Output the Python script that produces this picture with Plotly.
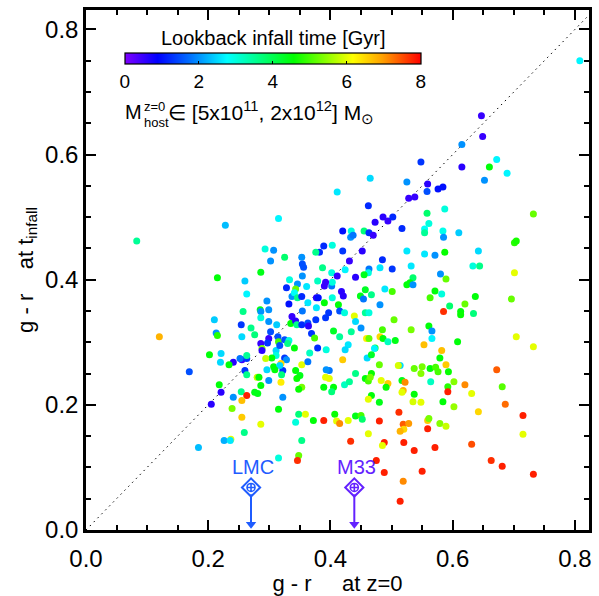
import plotly.graph_objects as go

# g - r colour of each satellite at z=0 and at its infall time, plus lookback infall time [Gyr]
gr_z0 = [
    0.808, 0.647, 0.649, 0.615, 0.548, 0.672, 0.615, 0.660, 0.689, 0.652,
    0.465, 0.525, 0.411, 0.559, 0.558, 0.576, 0.584, 0.528, 0.538, 0.462,
    0.558, 0.587, 0.732, 0.473, 0.486, 0.494, 0.502, 0.561, 0.554, 0.554,
    0.517, 0.584, 0.585, 0.610, 0.420, 0.434, 0.455, 0.433, 0.437, 0.463,
    0.470, 0.701, 0.704, 0.403, 0.420, 0.452, 0.525, 0.554, 0.571, 0.587,
    0.642, 0.431, 0.485, 0.532, 0.633, 0.644, 0.701, 0.402, 0.411, 0.424,
    0.441, 0.463, 0.462, 0.481, 0.501, 0.455, 0.580, 0.535, 0.589, 0.525,
    0.530, 0.535, 0.402, 0.403, 0.418, 0.421, 0.403, 0.457, 0.449, 0.454,
    0.467, 0.489, 0.501, 0.571, 0.582, 0.637, 0.696, 0.563, 0.620, 0.595,
    0.413, 0.481, 0.397, 0.415, 0.423, 0.439, 0.457, 0.463, 0.585, 0.613,
    0.613, 0.634, 0.441, 0.450, 0.405, 0.434, 0.504, 0.485, 0.532, 0.561,
    0.566, 0.415, 0.459, 0.463, 0.481, 0.486, 0.494, 0.506, 0.566, 0.608,
    0.704, 0.732, 0.553, 0.429, 0.424, 0.473, 0.472, 0.582, 0.420, 0.460,
    0.467, 0.579, 0.480, 0.514, 0.511, 0.537, 0.550, 0.548, 0.563, 0.572,
    0.576, 0.589, 0.593, 0.672, 0.441, 0.398, 0.398, 0.457, 0.462, 0.467,
    0.465, 0.483, 0.494, 0.517, 0.522, 0.519, 0.517, 0.564, 0.602, 0.592,
    0.620, 0.681, 0.592, 0.631, 0.423, 0.431, 0.405, 0.402, 0.491, 0.467,
    0.537, 0.462, 0.480, 0.535, 0.548, 0.584, 0.602, 0.686, 0.642, 0.715,
    0.407, 0.441, 0.450, 0.452, 0.512, 0.480, 0.410, 0.415, 0.429, 0.519,
    0.528, 0.520, 0.514, 0.559, 0.561, 0.559, 0.579, 0.589, 0.462, 0.715,
    0.184, 0.237, 0.226, 0.236, 0.259, 0.315, 0.353, 0.348, 0.346, 0.433,
    0.488, 0.485, 0.475, 0.488, 0.520, 0.519, 0.514, 0.537, 0.550, 0.571,
    0.631, 0.663, 0.681, 0.732, 0.083, 0.228, 0.315, 0.293, 0.307, 0.325,
    0.302, 0.353, 0.389, 0.382, 0.376, 0.354, 0.356, 0.387, 0.286, 0.215,
    0.260, 0.333, 0.354, 0.379, 0.392, 0.390, 0.346, 0.328, 0.361, 0.343,
    0.263, 0.296, 0.337, 0.341, 0.346, 0.353, 0.332, 0.354, 0.363, 0.377,
    0.380, 0.390, 0.377, 0.257, 0.285, 0.286, 0.299, 0.286, 0.210, 0.254,
    0.270, 0.299, 0.312, 0.337, 0.340, 0.335, 0.343, 0.345, 0.353, 0.363,
    0.364, 0.376, 0.392, 0.213, 0.215, 0.255, 0.276, 0.302, 0.314, 0.299,
    0.297, 0.286, 0.288, 0.288, 0.315, 0.311, 0.317, 0.325, 0.332, 0.330,
    0.341, 0.311, 0.304, 0.294, 0.325, 0.328, 0.319, 0.307, 0.322, 0.296,
    0.255, 0.263, 0.252, 0.263, 0.241, 0.234, 0.221, 0.220, 0.202, 0.120,
    0.169, 0.260, 0.263, 0.280, 0.283, 0.299, 0.320, 0.319, 0.286, 0.218,
    0.254, 0.221, 0.276, 0.281, 0.241, 0.263, 0.255, 0.322, 0.205, 0.239,
    0.315, 0.255, 0.286, 0.369, 0.374, 0.379, 0.393, 0.366, 0.317, 0.309,
    0.343, 0.350, 0.345, 0.353, 0.353, 0.348, 0.363, 0.393, 0.392, 0.389,
    0.348, 0.359, 0.372, 0.389, 0.343,
]
gr_infall = [
    0.750, 0.662, 0.629, 0.616, 0.588, 0.592, 0.580, 0.580, 0.570, 0.559,
    0.562, 0.556, 0.540, 0.553, 0.541, 0.545, 0.548, 0.530, 0.532, 0.518,
    0.506, 0.513, 0.505, 0.492, 0.500, 0.494, 0.500, 0.490, 0.481, 0.475,
    0.482, 0.478, 0.468, 0.475, 0.478, 0.478, 0.478, 0.468, 0.471, 0.475,
    0.471, 0.459, 0.462, 0.455, 0.446, 0.446, 0.446, 0.441, 0.439, 0.444,
    0.446, 0.430, 0.432, 0.422, 0.422, 0.422, 0.411, 0.411, 0.406, 0.416,
    0.404, 0.417, 0.411, 0.419, 0.417, 0.408, 0.409, 0.403, 0.401, 0.392,
    0.395, 0.392, 0.390, 0.396, 0.381, 0.374, 0.371, 0.384, 0.374, 0.369,
    0.376, 0.385, 0.381, 0.382, 0.377, 0.373, 0.369, 0.371, 0.361, 0.358,
    0.360, 0.360, 0.347, 0.350, 0.347, 0.342, 0.347, 0.347, 0.349, 0.349,
    0.344, 0.346, 0.333, 0.323, 0.318, 0.317, 0.336, 0.320, 0.320, 0.326,
    0.318, 0.309, 0.306, 0.306, 0.309, 0.306, 0.301, 0.303, 0.306, 0.301,
    0.309, 0.293, 0.296, 0.296, 0.288, 0.291, 0.290, 0.287, 0.272, 0.275,
    0.280, 0.275, 0.264, 0.263, 0.263, 0.258, 0.261, 0.250, 0.258, 0.260,
    0.253, 0.264, 0.253, 0.256, 0.250, 0.255, 0.242, 0.242, 0.238, 0.250,
    0.244, 0.239, 0.234, 0.239, 0.236, 0.223, 0.220, 0.237, 0.237, 0.229,
    0.232, 0.229, 0.221, 0.218, 0.232, 0.237, 0.228, 0.221, 0.228, 0.215,
    0.217, 0.209, 0.204, 0.205, 0.204, 0.205, 0.197, 0.201, 0.189, 0.183,
    0.185, 0.182, 0.183, 0.177, 0.188, 0.174, 0.174, 0.170, 0.175, 0.169,
    0.170, 0.161, 0.158, 0.175, 0.178, 0.162, 0.170, 0.166, 0.154, 0.153,
    0.132, 0.145, 0.143, 0.143, 0.156, 0.115, 0.143, 0.119, 0.111, 0.142,
    0.140, 0.135, 0.111, 0.092, 0.140, 0.078, 0.046, 0.127, 0.094, 0.132,
    0.137, 0.111, 0.102, 0.089, 0.462, 0.487, 0.498, 0.449, 0.447, 0.436,
    0.430, 0.436, 0.454, 0.444, 0.444, 0.425, 0.420, 0.419, 0.412, 0.403,
    0.398, 0.400, 0.406, 0.398, 0.396, 0.390, 0.393, 0.387, 0.389, 0.385,
    0.377, 0.366, 0.373, 0.379, 0.371, 0.373, 0.361, 0.350, 0.363, 0.371,
    0.371, 0.363, 0.355, 0.349, 0.352, 0.349, 0.352, 0.339, 0.336, 0.328,
    0.323, 0.333, 0.328, 0.341, 0.334, 0.330, 0.334, 0.328, 0.328, 0.331,
    0.326, 0.336, 0.339, 0.315, 0.311, 0.309, 0.312, 0.317, 0.309, 0.306,
    0.299, 0.298, 0.290, 0.287, 0.301, 0.287, 0.295, 0.304, 0.303, 0.298,
    0.291, 0.279, 0.275, 0.274, 0.275, 0.272, 0.266, 0.261, 0.255, 0.256,
    0.272, 0.274, 0.274, 0.279, 0.268, 0.264, 0.282, 0.268, 0.280, 0.309,
    0.253, 0.255, 0.248, 0.244, 0.244, 0.239, 0.248, 0.236, 0.231, 0.232,
    0.221, 0.220, 0.220, 0.218, 0.212, 0.215, 0.207, 0.212, 0.201, 0.194,
    0.193, 0.180, 0.169, 0.314, 0.307, 0.291, 0.288, 0.283, 0.263, 0.256,
    0.255, 0.247, 0.242, 0.264, 0.228, 0.225, 0.269, 0.256, 0.244, 0.228,
    0.185, 0.185, 0.175, 0.175, 0.172,
]
t_infall = [
    2.7, 0.5, 0.5, 2.0, 1.3, 2.7, 0.6, 4.5, 2.7, 2.0,
    2.5, 2.0, 2.6, 0.6, 1.5, 1.0, 1.0, 0.5, 0.5, 1.2,
    3.8, 3.0, 5.2, 0.6, 0.6, 0.5, 1.2, 3.0, 2.8, 3.5,
    1.2, 2.9, 2.0, 2.4, 1.0, 3.0, 3.7, 2.0, 1.8, 1.2,
    0.5, 4.8, 4.7, 3.0, 1.3, 0.6, 2.6, 2.6, 2.0, 4.6,
    2.5, 0.5, 1.2, 2.6, 3.0, 3.6, 6.0, 3.0, 0.5, 2.7,
    0.6, 1.8, 3.0, 2.6, 1.3, 4.4, 2.0, 3.8, 5.2, 4.5,
    4.5, 2.0, 1.8, 3.0, 0.6, 0.6, 3.0, 4.3, 4.4, 1.8,
    3.6, 2.6, 5.0, 4.5, 3.0, 4.5, 5.2, 5.0, 5.2, 3.8,
    4.5, 2.0, 1.3, 1.5, 3.0, 6.0, 3.5, 3.0, 7.7, 4.5,
    4.6, 3.7, 2.5, 2.0, 4.3, 3.5, 5.2, 5.0, 5.3, 4.5,
    2.0, 3.5, 6.3, 5.2, 6.5, 4.5, 3.2, 4.4, 2.7, 4.5,
    6.0, 6.0, 6.7, 2.6, 2.5, 4.4, 2.7, 6.7, 6.6, 2.5,
    4.3, 4.5, 5.2, 2.5, 5.9, 5.2, 5.3, 5.4, 4.5, 5.0,
    5.0, 6.6, 4.6, 7.4, 3.6, 1.8, 6.0, 4.5, 5.0, 4.6,
    5.3, 6.0, 6.6, 4.4, 7.1, 6.8, 6.0, 3.2, 5.4, 4.8,
    7.1, 5.1, 7.8, 6.0, 3.2, 3.5, 4.5, 3.7, 4.6, 4.5,
    4.5, 6.0, 4.4, 5.9, 6.0, 4.5, 5.5, 7.3, 6.5, 7.8,
    4.6, 4.4, 5.0, 3.8, 7.7, 7.8, 6.0, 7.1, 6.0, 7.4,
    7.0, 6.5, 6.8, 6.6, 5.3, 7.8, 5.4, 5.8, 6.0, 6.0,
    2.3, 6.0, 2.2, 2.6, 3.6, 3.0, 3.6, 5.2, 7.7, 7.7,
    7.8, 6.0, 7.8, 7.8, 7.8, 7.1, 7.8, 7.8, 7.8, 7.8,
    7.5, 7.7, 7.8, 7.8, 3.5, 2.3, 2.7, 3.0, 2.0, 3.8,
    2.0, 2.0, 1.2, 1.2, 3.6, 1.5, 1.5, 3.6, 4.4, 4.5,
    2.4, 3.0, 2.0, 3.2, 0.5, 0.5, 2.0, 1.2, 2.6, 5.2,
    2.7, 2.0, 2.0, 2.8, 3.6, 1.2, 1.0, 1.8, 2.6, 0.6,
    1.0, 4.5, 2.6, 3.6, 4.4, 2.0, 2.0, 3.0, 2.4, 1.3,
    3.6, 2.0, 2.4, 0.5, 0.5, 4.5, 0.6, 3.6, 1.2, 1.5,
    0.6, 1.3, 1.3, 2.0, 4.8, 2.5, 3.7, 1.5, 1.5, 0.5,
    1.3, 0.5, 5.3, 0.6, 5.0, 2.5, 1.5, 1.5, 3.0, 3.6,
    4.5, 3.0, 4.5, 5.8, 1.3, 2.0, 6.5, 4.5, 1.3, 2.5,
    0.5, 1.3, 1.8, 3.5, 0.6, 4.5, 2.5, 2.5, 4.5, 6.8,
    1.5, 1.3, 3.6, 5.8, 4.5, 2.0, 3.7, 6.3, 4.5, 4.5,
    3.6, 0.6, 4.4, 4.4, 2.0, 7.8, 6.7, 2.0, 0.6, 5.3,
    4.5, 6.6, 6.0, 1.3, 5.0, 1.2, 3.0, 3.2, 2.5, 4.5,
    4.5, 4.4, 4.6, 6.0, 5.3, 4.6, 1.8, 2.0, 6.0, 4.5,
    3.7, 6.0, 4.5, 7.8, 3.0,
]

# Local Group reference galaxies: g - r today, upper limit at infall
ref_names = ["LMC", "M33"]
ref_gr_z0 = [0.270, 0.439]
ref_gr_limit = [0.068, 0.068]
ref_colors = ["#1f5cff", "#6422ff"]

X_MAX, Y_MAX = 0.823, 0.831
FONT = "Arial, Liberation Sans, sans-serif"
SP = "\u00a0"

rainbow = [
    [0.00, "#8000ff"], [0.11, "#0000ff"], [0.22, "#0070ff"], [0.345, "#00ffff"],
    [0.57, "#00ff00"], [0.77, "#ffff00"], [0.87, "#ffa000"], [1.00, "#ff0000"],
]

fig = go.Figure()

# one-to-one line
fig.add_trace(go.Scatter(
    x=[0, X_MAX], y=[0, X_MAX], mode="lines",
    line=dict(color="black", width=1, dash="1.5px,4px"),
    hoverinfo="skip", showlegend=False,
))

fig.add_trace(go.Scatter(
    x=gr_z0, y=gr_infall, mode="markers", showlegend=False,
    marker=dict(
        size=7, color=t_infall, colorscale=rainbow, cmin=0, cmax=8,
        line=dict(width=0),
        colorbar=dict(
            orientation="h", x=0.3715, xanchor="center", y=0.9176, yanchor="top",
            xpad=0, ypad=0, len=296, lenmode="pixels", thickness=11,
            outlinewidth=1.2, outlinecolor="black",
            tickvals=[0, 2, 4, 6, 8], ticks="inside", ticklen=3, tickcolor="black",
            tickfont=dict(size=19, family=FONT, color="black"),
        ),
    ),
))

annotations = []
for name, gx, gy, col in zip(ref_names, ref_gr_z0, ref_gr_limit, ref_colors):
    # upper-limit arrow: shaft from the symbol down to the axis, then the head
    fig.add_trace(go.Scatter(
        x=[gx, gx], y=[gy - 0.011, 0.012], mode="lines", showlegend=False,
        line=dict(color=col, width=2), hoverinfo="skip",
    ))
    fig.add_trace(go.Scatter(
        x=[gx], y=[0.009], mode="markers", showlegend=False, hoverinfo="skip",
        marker=dict(symbol="triangle-down", size=9, color=col, line=dict(width=0)),
    ))
    fig.add_trace(go.Scatter(
        x=[gx], y=[gy], mode="markers", showlegend=False,
        marker=dict(symbol="diamond-open", size=14, color=col, line=dict(width=2, color=col)),
    ))
    fig.add_trace(go.Scatter(
        x=[gx], y=[gy], mode="markers", showlegend=False,
        marker=dict(symbol="circle-cross-open", size=8, color=col, line=dict(width=1.6, color=col)),
    ))
    annotations.append(dict(
        x=gx + 0.003, y=gy + 0.032, xref="x", yref="y", text=name, showarrow=False,
        font=dict(size=20, family=FONT, color=col), xanchor="center", yanchor="middle",
    ))

annotations += [
    dict(x=0.306, y=0.787, xref="x", yref="y", text="Lookback infall time [Gyr]",
         showarrow=False, font=dict(size=20, family=FONT, color="black")),
    dict(x=0.060, y=0.668, xref="x", yref="y", text="M", xanchor="left", yanchor="middle",
         showarrow=False, font=dict(size=20, family=FONT, color="black")),
    dict(x=0.091, y=0.677, xref="x", yref="y", text="z=0", xanchor="left", yanchor="middle",
         showarrow=False, font=dict(size=13, family=FONT, color="black")),
    dict(x=0.091, y=0.651, xref="x", yref="y", text="host", xanchor="left", yanchor="middle",
         showarrow=False, font=dict(size=13, family=FONT, color="black")),
    dict(x=0.131, y=0.668, xref="x", yref="y",
         text="∈ [5x10<sup>11</sup>, 2x10<sup>12</sup>] M<sub>⊙</sub>",
         xanchor="left", yanchor="middle",
         showarrow=False, font=dict(size=21, family=FONT, color="black")),
]

axis_common = dict(
    showgrid=False, zeroline=False, showline=True, linewidth=2.5, linecolor="black",
    mirror="ticks", ticks="inside", ticklen=10, tickwidth=2, tickcolor="black",
    tick0=0, dtick=0.2, tickformat=".1f",
    tickfont=dict(size=24, family=FONT, color="black"),
    minor=dict(ticks="inside", ticklen=5, tickwidth=2, tickcolor="black", dtick=0.05, showgrid=False),
)

fig.update_layout(
    width=599, height=596,
    margin=dict(l=86, r=7, t=10, b=64),
    paper_bgcolor="white", plot_bgcolor="white",
    font=dict(family=FONT, color="black"),
    xaxis=dict(range=[0, X_MAX], ticklabelstandoff=5,
               title=dict(text="g - r" + SP * 5 + "at z=0", font=dict(size=22, family=FONT), standoff=2),
               **axis_common),
    yaxis=dict(range=[0, Y_MAX],
               title=dict(text="g - r" + SP * 4 + "at t<sub>infall</sub>", font=dict(size=22, family=FONT), standoff=6),
               **axis_common),
    annotations=annotations,
)

fig.write_html("out.html")
